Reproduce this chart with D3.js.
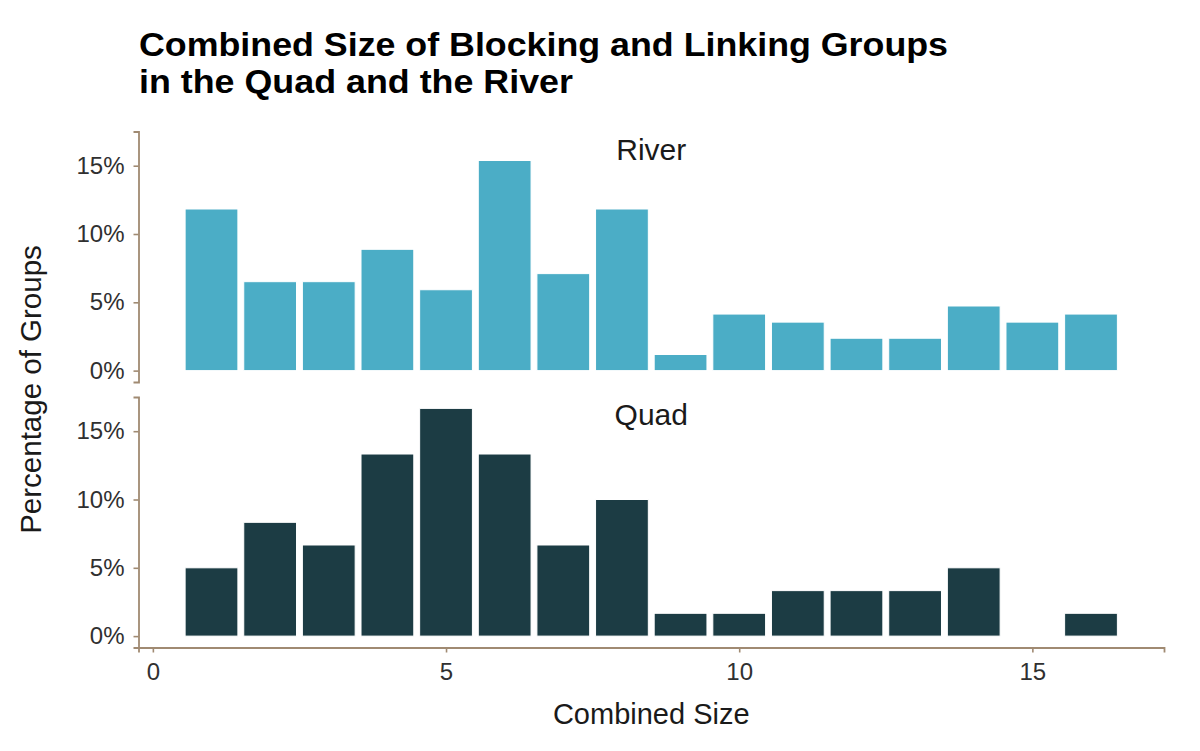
<!DOCTYPE html>
<html><head><meta charset="utf-8">
<script src="https://cdn.jsdelivr.net/npm/d3@7"></script>
<style>body{margin:0;background:#fff;} text{font-family:"Liberation Sans",Arial,sans-serif;}</style>
</head><body>
<svg id="c" width="1200" height="751"></svg>
<script>
const sizes = [1,2,3,4,5,6,7,8,9,10,11,12,13,14,15,16];
const facets = ["River","Quad"];
const riverPct = [11.83,6.51,6.51,8.88,5.92,15.38,7.10,11.83,1.18,4.14,3.55,2.37,2.37,4.73,3.55,4.14];
const quadPct  = [5.00,8.33,6.67,13.33,16.67,13.33,6.67,10.00,1.67,1.67,3.33,3.33,3.33,5.00,0,1.67];
const xTicks = [0,5,10,15];
const yTicks = [0,5,10,15];
const colors = {River:"#4BADC6", Quad:"#1C3C44"};
const seriesByFacet = {River: riverPct, Quad: quadPct};

const svg = d3.select("#c");
const axisCol = "#A08A72";
const left = 138.5, right = 1164;
const panels = {River:[131.5,382], Quad:[397,647.5]};
const FF = "Liberation Sans, Arial, sans-serif";

const x = d3.scaleLinear().domain([-0.245,17.245]).range([left,right]);
const yMax = d3.max([...riverPct,...quadPct]);
const yDomain = [-0.05*yMax, yMax*1.05];

svg.append("text").attr("x",139).attr("y",56).attr("font-size",34).attr("font-weight","bold").attr("fill","#000")
  .attr("textLength",809).attr("lengthAdjust","spacingAndGlyphs")
  .text("Combined Size of Blocking and Linking Groups");
svg.append("text").attr("x",139).attr("y",93).attr("font-size",34).attr("font-weight","bold").attr("fill","#000")
  .attr("textLength",434).attr("lengthAdjust","spacingAndGlyphs")
  .text("in the Quad and the River");

facets.forEach(f=>{
  const [t,b] = panels[f];
  const y = d3.scaleLinear().domain(yDomain).range([b,t]);
  const g = svg.append("g");
  const vals = seriesByFacet[f];
  g.selectAll("rect").data(sizes.map((s,i)=>({s,v:vals[i]})).filter(d=>d.v>0)).join("rect")
    .attr("x",d=>x(d.s-0.45)).attr("width",x(0.9)-x(0))
    .attr("y",d=>y(d.v)).attr("height",d=>y(0)-y(d.v))
    .attr("fill",colors[f]).attr("stroke","#fff").attr("stroke-width",1);
  const ya = d3.axisLeft(y).tickValues(yTicks).tickFormat(d=>d+"%").tickSize(5).tickPadding(9);
  const ag = svg.append("g").attr("transform",`translate(${left},0)`).call(ya);
  ag.select(".domain").attr("stroke",axisCol).attr("stroke-width",1.8);
  ag.selectAll(".tick line").attr("stroke",axisCol).attr("stroke-width",1.6);
  ag.selectAll(".tick text").attr("font-size",24).attr("fill","#303030").attr("font-family",FF);
  svg.append("text").attr("x",(left+right)/2).attr("y",t+28).attr("text-anchor","middle")
    .attr("font-size",30).attr("fill","#1a1a1a").text(f);
});

const xa = d3.axisBottom(x).tickValues(xTicks).tickSize(5).tickPadding(10);
const xg = svg.append("g").attr("transform",`translate(0,${panels.Quad[1]})`).call(xa);
xg.select(".domain").attr("stroke",axisCol).attr("stroke-width",1.8);
xg.selectAll(".tick line").attr("stroke",axisCol).attr("stroke-width",1.6);
xg.selectAll(".tick text").attr("font-size",24).attr("fill","#303030").attr("font-family",FF);

svg.append("text").attr("x",(left+right)/2).attr("y",724).attr("text-anchor","middle")
  .attr("font-size",29).attr("fill","#1a1a1a").text("Combined Size");
svg.append("text").attr("transform",`translate(41,${(panels.River[0]+panels.Quad[1])/2}) rotate(-90)`)
  .attr("text-anchor","middle").attr("font-size",29.5).attr("fill","#1a1a1a").text("Percentage of Groups");
</script>
</body></html>
